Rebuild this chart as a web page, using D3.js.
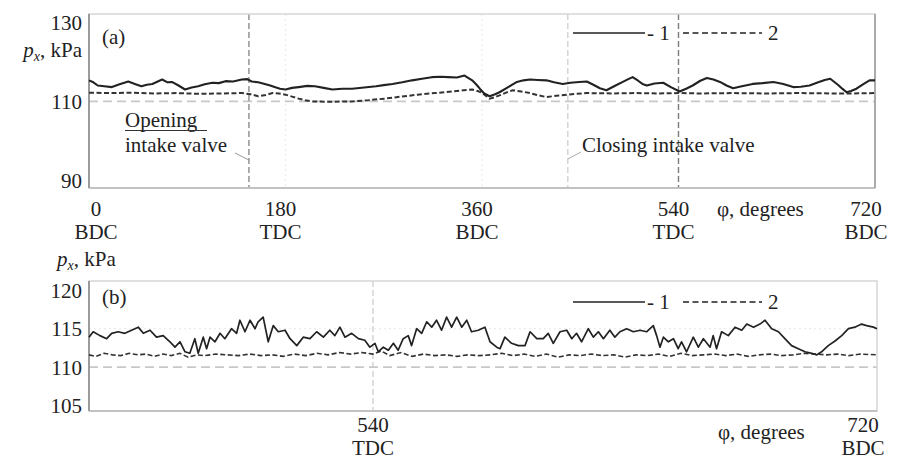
<!DOCTYPE html>
<html>
<head>
<meta charset="utf-8">
<script src="https://cdn.jsdelivr.net/npm/d3@7"></script>
<style>
  body { margin: 0; background: #fff; }
  text { font-family: "Liberation Serif", "Times New Roman", serif; font-size: 21px; fill: #222; }
</style>
</head>
<body>
<div id="chart"></div>
<script>
// crank angle (degrees) / pressure (kPa) pairs
const topSolid = [[0,115.3],[4,114.8],[8,114.0],[14,113.8],[21,113.6],[28,114.3],[36,115.0],[42,114.4],[48,113.8],[53,114.2],[58,114.4],[63,115.0],[67,115.5],[72,114.8],[76,114.9],[82,114.0],[88,113.0],[94,113.5],[100,113.8],[106,114.3],[113,114.7],[119,114.6],[125,115.1],[132,115.0],[140,115.5],[145,115.6],[149,115.0],[155,114.8],[161,114.4],[166,114.0],[170,113.6],[175,113.2],[180,113.0],[186,113.4],[192,113.6],[200,113.9],[207,113.8],[215,113.4],[223,113.0],[232,113.2],[241,113.2],[252,113.5],[263,113.8],[270,114.1],[278,114.4],[287,114.8],[296,115.3],[305,115.7],[314,116.1],[322,116.2],[329,116.1],[337,116.0],[344,116.5],[351,115.3],[355,114.2],[358,113.2],[362,112.0],[367,111.3],[372,111.8],[376,112.3],[384,113.6],[392,114.9],[398,115.3],[404,115.5],[411,115.4],[419,115.3],[426,114.8],[434,114.4],[441,114.7],[449,114.9],[456,115.0],[462,114.2],[468,113.3],[474,112.8],[481,113.8],[489,114.9],[494,115.6],[498,116.1],[503,115.2],[507,114.4],[511,114.0],[518,114.5],[526,114.7],[533,113.6],[541,112.5],[547,113.2],[553,114.0],[560,115.2],[566,115.9],[572,115.5],[578,114.9],[584,114.0],[590,113.3],[598,113.8],[608,114.4],[617,114.6],[627,114.9],[636,114.4],[645,113.6],[652,113.7],[660,114.0],[668,114.8],[674,115.4],[679,115.7],[686,114.2],[690,113.2],[694,112.3],[698,112.6],[703,113.2],[709,114.3],[715,115.3],[720,115.3]];

const topDashed = [[0,112.2],[20,112.1],[40,112.2],[60,112.0],[80,112.1],[100,111.9],[120,112.0],[140,112.1],[148,111.8],[155,111.3],[162,111.6],[168,112.1],[174,112.0],[180,111.7],[186,111.2],[192,110.7],[198,110.3],[204,110.0],[220,109.9],[241,110.0],[256,110.3],[271,110.7],[286,111.2],[301,111.7],[317,112.1],[333,112.5],[343,112.8],[351,113.0],[356,112.6],[360,112.2],[364,111.3],[367,110.7],[371,111.0],[376,111.5],[382,112.2],[388,112.8],[396,112.5],[404,112.1],[412,111.5],[419,111.1],[428,111.4],[438,111.7],[447,111.9],[456,112.1],[480,112.0],[500,112.1],[520,112.0],[540,112.1],[560,112.0],[590,112.1],[620,112.0],[650,112.1],[680,112.0],[700,112.0],[720,112.1]];

const botSolid = [[438.6,113.9],[440.1,114.6],[442.5,114.1],[444.9,113.7],[446.7,114.4],[449,114.6],[451.4,114.4],[453.8,114.8],[456.2,115.2],[458,114.4],[460.4,114.8],[462.7,113.9],[465.1,114.1],[467.5,113.3],[469.3,112.6],[471.1,113.3],[472.9,112.0],[474.6,111.8],[476.4,113.7],[477.6,111.8],[479.4,113.9],[480.6,112.4],[481.8,113.9],[483.6,113.3],[485.4,114.4],[487.1,113.7],[489.5,115.0],[491.3,114.4],[492.5,116.1],[494.3,114.6],[496.1,116.1],[497.9,115.0],[499,115.9],[500.8,116.5],[502.6,113.3],[504.4,115.4],[506.2,114.6],[508.6,114.8],[510.4,113.7],[512.8,112.8],[515.1,113.9],[517.5,113.7],[519.9,114.6],[522.3,113.9],[524.6,114.8],[526.4,114.1],[528.2,115.2],[530,113.9],[532.4,114.4],[534.8,113.7],[537.1,113.5],[538.9,112.6],[540.7,113.1],[541.9,112.0],[543.7,112.6],[545.5,112.2],[547.3,113.1],[549,112.2],[550.8,113.7],[552.6,114.1],[553.8,112.8],[555.6,115.0],[557.4,114.4],[559.2,115.9],[561,115.2],[562.7,116.1],[564.5,114.8],[566.3,116.5],[568.1,115.2],[569.9,116.5],[571.7,115.2],[573.5,116.1],[575.2,114.6],[577.6,114.8],[580,115.2],[581.8,113.3],[584.2,112.6],[585.4,112.4],[587.1,113.9],[589.5,113.1],[591.9,112.8],[594.3,112.8],[596.1,114.6],[598.5,113.7],[600.8,113.7],[602.6,114.4],[604.4,113.1],[606.8,114.6],[609.2,114.8],[611,113.7],[612.7,114.4],[614.5,113.3],[616.9,115.0],[618.7,113.9],[620.5,114.6],[622.3,113.7],[624.6,114.8],[626.4,113.9],[628.2,114.6],[630.6,115.0],[633,114.6],[635.4,114.8],[637.7,114.6],[640.1,115.4],[641.3,114.1],[642.5,112.6],[643.7,113.9],[645.5,113.3],[647.3,113.7],[649,112.4],[650.2,113.3],[652,112.0],[654.4,113.9],[656.2,112.6],[658,113.7],[660.4,112.6],[661.5,114.1],[662.7,112.4],[664.5,114.6],[666.9,114.1],[669.3,115.2],[671.7,114.8],[673.5,115.6],[675.9,115.2],[678.2,115.6],[680,116.1],[682.4,115.0],[684.8,114.6],[687.1,113.7],[689.5,112.8],[691.9,112.4],[694.3,112.0],[696.7,111.8],[698.5,111.6],[700.2,112.0],[702.6,112.8],[705,113.4],[707.4,114.1],[709.8,115.0],[712.1,115.2],[714.5,115.6],[716.3,115.4],[718.7,115.2],[720,115.0]];

const botDashed = [[438.6,111.6],[441,111.4],[444,111.8],[447,111.6],[450,111.5],[453,111.8],[456,111.6],[459,111.7],[462,111.4],[465,111.7],[468,111.5],[471,111.8],[474,111.3],[477,111.6],[480,111.5],[484,111.7],[488,111.6],[492,111.5],[496,111.7],[500,111.5],[504,111.6],[508,111.4],[512,111.7],[516,111.5],[520,111.8],[524,111.6],[528,111.9],[532,111.7],[536,111.9],[540,111.7],[543,112.1],[546,111.5],[550,111.9],[554,111.4],[558,111.7],[562,111.5],[566,111.6],[570,111.4],[574,111.6],[578,111.5],[582,111.6],[586,111.8],[590,111.5],[594,111.7],[598,111.4],[602,111.7],[606,111.3],[610,111.6],[614,111.5],[618,111.7],[622,111.5],[626,111.6],[630,111.3],[634,111.6],[638,111.5],[642,111.7],[646,111.4],[650,111.8],[654,111.5],[658,111.6],[662,111.7],[666,111.5],[670,111.7],[674,111.4],[678,111.6],[682,111.7],[686,111.5],[690,111.6],[694,111.8],[698,111.7],[702,111.6],[706,111.7],[710,111.5],[714,111.7],[720,111.6]];

const topXTicks = [0, 180, 360, 540, 720];
const topXNames = ["BDC", "TDC", "BDC", "TDC", "BDC"];
const botXTicks = [540, 720];
const botXNames = ["TDC", "BDC"];
const topYTicks = [90, 110, 130];
const botYTicks = [105, 110, 115, 120];
const openValve = 146.5, closeValve = 438.6;

const W = 897, H = 459;
const svg = d3.select("#chart").append("svg").attr("width", W).attr("height", H);

function panel(o) {
  const x = d3.scaleLinear().domain(o.xDomain).range([89, o.right]);
  const y = d3.scaleLinear().domain(o.yDomain).range([o.bottom, o.top]);
  const g = svg.append("g");

  // faint grid
  o.faintX.forEach(v => g.append("line").attr("x1", x(v)).attr("x2", x(v)).attr("y1", o.top).attr("y2", o.bottom)
    .attr("stroke", "#ececec").attr("stroke-width", 1.2).attr("stroke-dasharray", "2,3"));
  o.faintY.forEach(v => g.append("line").attr("x1", x.range()[0]).attr("x2", x.range()[1]).attr("y1", y(v)).attr("y2", y(v))
    .attr("stroke", "#ececec").attr("stroke-width", 1.2).attr("stroke-dasharray", "2,3"));

  // 110 kPa reference
  g.append("line").attr("x1", x.range()[0]).attr("x2", x.range()[1]).attr("y1", y(110)).attr("y2", y(110))
    .attr("stroke", "#c8c8c8").attr("stroke-width", 1.8).attr("stroke-dasharray", "9,5");

  // vertical markers
  o.vlines.forEach(d => g.append("line").attr("x1", x(d.v)).attr("x2", x(d.v)).attr("y1", o.top).attr("y2", o.bottom)
    .attr("stroke", d.c).attr("stroke-width", d.w).attr("stroke-dasharray", "6,3"));

  // frame
  g.append("rect").attr("x", 89).attr("y", o.top).attr("width", o.right - 89).attr("height", o.bottom - o.top)
    .attr("fill", "none").attr("stroke", "#d6d6d6").attr("stroke-width", 1.5);
  g.append("line").attr("x1", 89).attr("x2", 89).attr("y1", o.top).attr("y2", o.bottom)
    .attr("stroke", "#8a8a8a").attr("stroke-width", 1.6);
  g.append("line").attr("x1", 89).attr("x2", o.right).attr("y1", o.bottom).attr("y2", o.bottom)
    .attr("stroke", "#b8b8b8").attr("stroke-width", 1.5);
  if (o.darkRight) g.append("line").attr("x1", o.right).attr("x2", o.right).attr("y1", o.top).attr("y2", o.bottom)
    .attr("stroke", "#9a9a9a").attr("stroke-width", 1.5);

  // y ticks
  const ya = g.append("g").attr("transform", "translate(89,0)")
    .call(d3.axisLeft(y).tickValues(o.yTicks).tickSize(0).tickPadding(7));
  ya.select(".domain").remove();
  ya.selectAll("text").style("font-family", "Liberation Serif").style("font-size", "21px").attr("fill", "#222").attr("dy", "0.34em");

  // x tick labels, two lines
  o.xTicks.forEach((v, i) => {
    let dx = o.shift;
    if (v === o.xDomain[0]) dx = 7;
    if (v === o.xDomain[1]) dx = o.endShift;
    const t = g.append("text").attr("x", x(v) + dx).attr("text-anchor", "middle");
    t.append("tspan").attr("x", x(v) + dx).attr("y", o.numY).text(v);
    t.append("tspan").attr("x", x(v) + dx).attr("y", o.numY + 23).text(o.xNames[i]);
  });
  g.append("text").attr("x", o.phiX).attr("y", o.phiY).text("\u03c6, degrees");

  // series
  const line = d3.line().x(d => x(d[0])).y(d => y(d[1])).curve(d3.curveLinear);
  g.append("path").datum(o.s2).attr("d", line).attr("fill", "none")
    .attr("stroke", "#333").attr("stroke-width", o.lw - 0.1).attr("stroke-dasharray", "5,2.5");
  g.append("path").datum(o.s1).attr("d", line).attr("fill", "none")
    .attr("stroke", "#222").attr("stroke-width", o.lw).attr("stroke-linejoin", "round");

  // legend
  const ly = o.legY;
  g.append("line").attr("x1", 573).attr("x2", 645).attr("y1", ly).attr("y2", ly).attr("stroke", "#222").attr("stroke-width", 1.6);
  g.append("text").attr("x", 647).attr("y", ly + 7).text("- 1");
  g.append("line").attr("x1", 683).attr("x2", 762).attr("y1", ly).attr("y2", ly).attr("stroke", "#222").attr("stroke-width", 1.6).attr("stroke-dasharray", "6,3.5");
  g.append("text").attr("x", 768).attr("y", ly + 7).text("2");

  // panel tag and axis title
  g.append("text").attr("x", 102).attr("y", o.tagY).text(o.tag);
  const yt = g.append("text").attr("x", o.titleX).attr("y", o.titleY).attr("text-anchor", o.titleAnchor);
  yt.append("tspan").style("font-style", "italic").text("p");
  yt.append("tspan").attr("dy", 4).style("font-style", "italic").style("font-size", "14px").text("x");
  yt.append("tspan").attr("dy", -4).text(", kPa");
  return { x, y, g };
}

const a = panel({
  xDomain: [0, 720], yDomain: [88.2, 132], top: 14, bottom: 188, right: 875,
  s1: topSolid, s2: topDashed, yTicks: topYTicks, xTicks: topXTicks, xNames: topXNames,
  faintX: [180, 360], faintY: [], lw: 2.1,
  vlines: [{ v: openValve, c: "#8c8c8c", w: 1.4 }, { v: closeValve, c: "#cfcfcf", w: 1.3 }, { v: 540, c: "#7c7c7c", w: 1.4 }],
  darkRight: true, shift: -5, endShift: -9, numY: 216, phiX: 717, phiY: 216, legY: 33,
  tag: "(a)", tagY: 44, titleX: 82, titleY: 57, titleAnchor: "end"
});

// annotations in panel (a)
a.g.append("text").attr("x", 125).attr("y", 127).text("Opening");
a.g.append("line").attr("x1", 125).attr("x2", 207).attr("y1", 130.5).attr("y2", 130.5).attr("stroke", "#333").attr("stroke-width", 1.2);
a.g.append("text").attr("x", 125).attr("y", 152).text("intake valve");
a.g.append("line").attr("x1", 235).attr("y1", 153).attr("x2", a.x(openValve)).attr("y2", 160).attr("stroke", "#999").attr("stroke-width", 1);
a.g.append("text").attr("x", 582).attr("y", 152).text("Closing intake valve");
a.g.append("line").attr("x1", a.x(closeValve)).attr("y1", 159).attr("x2", 581).attr("y2", 152).attr("stroke", "#aaa").attr("stroke-width", 1);

panel({
  xDomain: [438.6, 720], yDomain: [104.3, 121.2], top: 281, bottom: 411, right: 877,
  s1: botSolid, s2: botDashed, yTicks: botYTicks, xTicks: botXTicks, xNames: botXNames,
  faintX: [], faintY: [115], lw: 1.7,
  vlines: [{ v: 540, c: "#c4c4c4", w: 1.1 }],
  darkRight: false, shift: 0, endShift: -14, numY: 432, phiX: 718, phiY: 439, legY: 302,
  tag: "(b)", tagY: 304, titleX: 57, titleY: 266, titleAnchor: "start"
});
</script>
</body>
</html>
